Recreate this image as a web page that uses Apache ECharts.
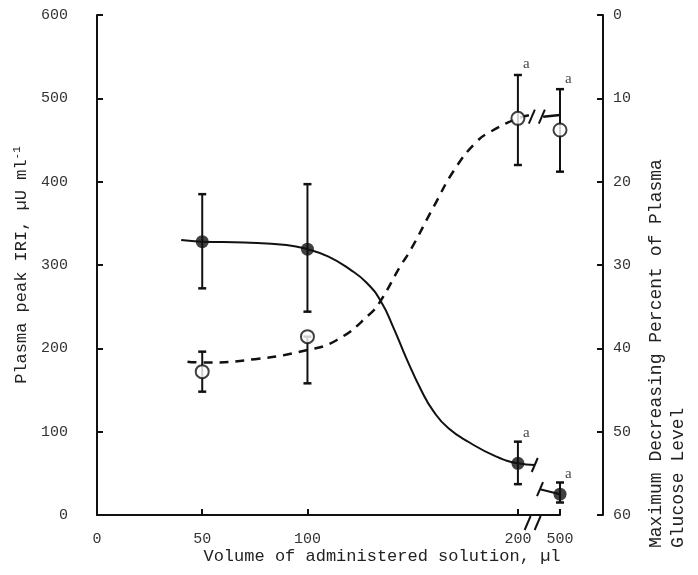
<!DOCTYPE html>
<html>
<head>
<meta charset="utf-8">
<script src="https://cdn.jsdelivr.net/npm/echarts@6/dist/echarts.min.js"></script>
<style>html,body{margin:0;background:#fff}#main{width:698px;height:575px}</style>
</head>
<body>
<div id="main"></div>
<script>
// measured points (volume in ul)
var volumes = [50, 100, 200, 500];
var xTickValues = [0, 50, 100, 200, 500];
var iriMean = [328, 319, 62, 25];
var iriLow = [272, 244, 37, 15];
var iriHigh = [385, 397, 88, 39];
var glucMean = [42.8, 38.6, 12.4, 13.8];
var glucTop = [40.4, 38.6, 7.2, 8.9];
var glucBottom = [45.2, 44.2, 18.0, 18.8];
var sigMarks = ['', '', 'a', 'a'];

// fitted curves
var iriCurveX = [40, 50, 70, 90, 100, 110, 120, 128, 135, 141, 147, 154, 160, 167, 177, 189, 200, 208];
var iriCurveY = [330, 328, 327, 324, 319, 310, 295, 279, 256, 224, 188, 150, 124, 104, 87, 71, 62, 60];
var iriTailX = [210.5, 220];
var iriTailY = [31, 25];
var glucCurveX = [43, 50, 75, 100, 114, 130, 135, 144, 149, 160, 170, 180, 187, 200, 206];
var glucCurveY = [41.6, 41.7, 41.3, 40.2, 39.0, 35.8, 34.2, 30.2, 28.2, 23, 18.5, 15.3, 14.0, 12.4, 12.0];
var glucTailX = [212, 220];
var glucTailY = [12.2, 12.0];

var BREAK_AT = 207;
var INK = '#111';
var MONO = '"Liberation Mono", "DejaVu Sans Mono", monospace';

// 500 ul sits just past the axis break
function axisX(v) { return v === 500 ? 220 : v; }
function zip(xs, ys) { return xs.map(function (x, i) { return [x, ys[i]]; }); }

function errorBar(params, api) {
  var x = api.value(0);
  var a = api.coord([x, api.value(1)]);
  var b = api.coord([x, api.value(2)]);
  var w = 4;
  return { type: 'group', children: [
    { type: 'line', shape: { x1: a[0], y1: a[1], x2: b[0], y2: b[1] }, style: { stroke: INK, lineWidth: 2 } },
    { type: 'line', shape: { x1: a[0] - w, y1: a[1], x2: a[0] + w, y2: a[1] }, style: { stroke: INK, lineWidth: 2.5 } },
    { type: 'line', shape: { x1: b[0] - w, y1: b[1], x2: b[0] + w, y2: b[1] }, style: { stroke: INK, lineWidth: 2.5 } }
  ] };
}

function slash(cx, cy) {
  return { type: 'line', shape: { x1: cx - 3, y1: cy + 7, x2: cx + 3, y2: cy - 7 }, style: { stroke: INK, lineWidth: 2 } };
}

// single slash at the end of a curve piece
function curveSlash(params, api) {
  var p = api.coord([api.value(0), api.value(1)]);
  return slash(p[0], p[1]);
}

// double slash with a gap (axis and dashed curve)
function doubleSlash(dy) {
  return function (params, api) {
    var p = api.coord([api.value(0), api.value(1)]);
    var cy = p[1] + dy;
    return { type: 'group', children: [
      { type: 'rect', shape: { x: p[0] - 5, y: cy - 3, width: 10, height: 6 }, style: { fill: '#fff' } },
      slash(p[0] - 5, cy), slash(p[0] + 5, cy)
    ] };
  };
}

var iriPoints = volumes.map(function (v, i) { return [axisX(v), iriMean[i]]; });
var glucPoints = volumes.map(function (v, i) { return [axisX(v), glucMean[i]]; });

var chart = echarts.init(document.getElementById('main'));
chart.setOption({
  animation: false,
  backgroundColor: '#fff',
  grid: { left: 97, right: 138, top: 15, bottom: 60 },
  xAxis: {
    type: 'value', min: 0, max: 220, offset: 8,
    splitLine: { show: false },
    axisLine: { lineStyle: { color: INK, width: 2 } },
    axisTick: { inside: true, length: 6, lineStyle: { color: INK, width: 2 },
      customValues: xTickValues.map(axisX) },
    axisLabel: { margin: 9, color: '#333', fontFamily: MONO, fontSize: 15,
      customValues: xTickValues.map(axisX),
      formatter: function (v) { return v === 220 ? '500' : String(v); } }
  },
  yAxis: [{
    type: 'value', min: 0, max: 600, interval: 100, offset: 19,
    splitLine: { show: false },
    axisLine: { show: true, lineStyle: { color: INK, width: 2 } },
    axisTick: { inside: true, length: 6, lineStyle: { color: INK, width: 2 } },
    axisLabel: { margin: 10, color: '#333', fontFamily: MONO, fontSize: 15 },
    name: 'Plasma peak IRI, \u00b5U ml{sup|-1}',
    nameLocation: 'middle', nameGap: 46, nameRotate: 90,
    nameTextStyle: { color: '#222', fontFamily: MONO, fontSize: 17,
      rich: { sup: { fontFamily: MONO, fontSize: 11, verticalAlign: 'top', padding: [0, 0, 9, 0] } } }
  }, {
    type: 'value', min: 0, max: 60, interval: 10, inverse: true, position: 'right', offset: 43,
    splitLine: { show: false },
    axisLine: { show: true, lineStyle: { color: INK, width: 2 } },
    axisTick: { inside: true, length: 6, lineStyle: { color: INK, width: 2 } },
    axisLabel: { margin: 10, color: '#333', fontFamily: MONO, fontSize: 15 }
  }],
  graphic: [
    { type: 'text', x: 382, y: 556, style: { text: 'Volume of administered solution, \u00b5l',
      fill: '#222', font: '17px ' + MONO, textAlign: 'center', textVerticalAlign: 'middle' } },
    { type: 'text', x: 656, y: 548, rotation: Math.PI / 2, style: { text: 'Maximum Decreasing Percent of Plasma',
      fill: '#222', font: '18px ' + MONO, textAlign: 'left', textVerticalAlign: 'middle' } },
    { type: 'text', x: 678, y: 548, rotation: Math.PI / 2, style: { text: 'Glucose Level',
      fill: '#222', font: '18px ' + MONO, textAlign: 'left', textVerticalAlign: 'middle' } }
  ],
  series: [
    { type: 'line', yAxisIndex: 0, data: zip(iriCurveX, iriCurveY), smooth: true, showSymbol: false,
      lineStyle: { color: INK, width: 2 }, z: 2 },
    { type: 'line', yAxisIndex: 0, data: zip(iriTailX, iriTailY), showSymbol: false,
      lineStyle: { color: INK, width: 2 }, z: 2 },
    { type: 'line', yAxisIndex: 1, data: zip(glucCurveX, glucCurveY), smooth: true, showSymbol: false,
      lineStyle: { color: INK, width: 2.5, type: [9, 7] }, z: 2 },
    { type: 'line', yAxisIndex: 1, data: zip(glucTailX, glucTailY), showSymbol: false,
      lineStyle: { color: INK, width: 2.5 }, z: 2 },
    { type: 'custom', yAxisIndex: 0, renderItem: curveSlash, silent: true, clip: false,
      data: [[iriCurveX[iriCurveX.length - 1], iriCurveY[iriCurveY.length - 1]], [iriTailX[0], iriTailY[0]]], z: 3 },
    { type: 'custom', yAxisIndex: 1, renderItem: doubleSlash(0), silent: true, clip: false,
      data: [[(glucCurveX[glucCurveX.length - 1] + glucTailX[0]) / 2, glucTailY[0]]], z: 3 },
    { type: 'custom', yAxisIndex: 0, renderItem: doubleSlash(8), silent: true, clip: false,
      data: [[BREAK_AT, 0]], z: 5 },
    { type: 'custom', yAxisIndex: 0, renderItem: errorBar, silent: true, clip: false,
      encode: { x: 0, y: [1, 2] },
      data: volumes.map(function (v, i) { return [axisX(v), iriLow[i], iriHigh[i]]; }), z: 3 },
    { type: 'custom', yAxisIndex: 1, renderItem: errorBar, silent: true, clip: false,
      encode: { x: 0, y: [1, 2] },
      data: volumes.map(function (v, i) { return [axisX(v), glucTop[i], glucBottom[i]]; }), z: 3 },
    { type: 'scatter', yAxisIndex: 0, data: iriPoints, symbol: 'circle', symbolSize: 13,
      itemStyle: { color: INK }, z: 4 },
    { type: 'scatter', yAxisIndex: 1, data: glucPoints, symbol: 'circle', symbolSize: 13,
      itemStyle: { color: '#fff', borderColor: INK, borderWidth: 2 }, z: 4 },
    { type: 'scatter', yAxisIndex: 0, symbolSize: 0, silent: true,
      data: volumes.map(function (v, i) { return [axisX(v), iriHigh[i]]; }),
      label: { show: true, position: [5, -16], color: INK, fontFamily: '"Liberation Serif", serif', fontSize: 15,
        formatter: function (p) { return sigMarks[p.dataIndex]; } } },
    { type: 'scatter', yAxisIndex: 1, symbolSize: 0, silent: true,
      data: volumes.map(function (v, i) { return [axisX(v), glucTop[i]]; }),
      label: { show: true, position: [5, -18], color: INK, fontFamily: '"Liberation Serif", serif', fontSize: 15,
        formatter: function (p) { return sigMarks[p.dataIndex]; } } }
  ]
});
</script>
</body>
</html>
